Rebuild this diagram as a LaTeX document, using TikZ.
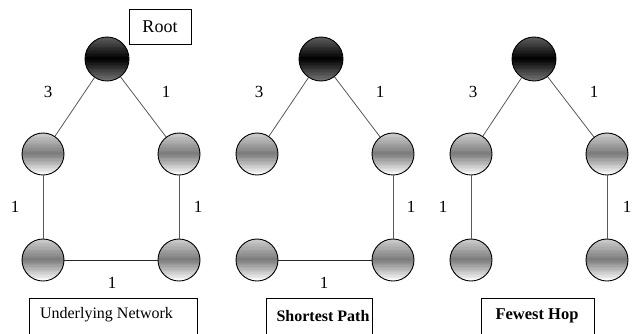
\documentclass[tikz,border=0pt]{standalone}
\usepackage{fontspec}
\setmainfont{Liberation Serif}
\colorlet{vtop}{black!18}
\colorlet{vmid}{black!52}
\colorlet{vbot}{white}
\colorlet{rtop}{black!62}
\colorlet{rmid}{black}
\colorlet{rbot}{black!55}
\newcommand\gball[6]{% x y r top mid bottom
  \begin{scope}
    \clip (#1,#2) circle (#3);
    \foreach \gbi in {0,...,29}{
      \pgfmathsetmacro\gbt{(\gbi+0.5)/30}
      \pgfmathsetmacro\gbp{\gbt<0.5 ? (1-2*\gbt)*100 : (2-2*\gbt)*100}
      \ifdim\gbt pt<0.5pt \colorlet{gbc}{#4!\gbp!#5}\else\colorlet{gbc}{#5!\gbp!#6}\fi
      \fill[gbc] ({#1-#3},{#2+#3-\gbi*2*#3/30+0.3}) rectangle ({#1+#3},{#2+#3-(\gbi+1)*2*#3/30-0.3});
    }
  \end{scope}}
\begin{document}
\begin{tikzpicture}[x=1pt,y=1pt,
  vnode/.style={circle,draw=black,line width=0.9pt,minimum size=42pt,inner sep=0pt},
  rnode/.style={circle,draw=black,line width=0.9pt,minimum size=44pt,inner sep=0pt},
  edge/.style={draw=black!65,line width=0.8pt},
  wlab/.style={font=\fontsize{17}{19}\selectfont,inner sep=0pt},
  lbox/.style={draw=black,line width=0.8pt}]
\clip (0,0) rectangle (632,-333);
\useasboundingbox (0,0) rectangle (632,-333);
\fill[white] (0,0) rectangle (632,-333);

% ---- shaded balls
\foreach \bx in {107,321,534}{\gball{\bx}{-59}{22}{rtop}{rmid}{rbot}}
\foreach \bx in {43,179,257,393,471,607}{
  \gball{\bx}{-154}{21}{vtop}{vmid}{vbot}
  \gball{\bx}{-260}{21}{vtop}{vmid}{vbot}}

% ---- panel 1: underlying network
\node[rnode] (r1) at (107,-59) {};
\node[vnode] (a1) at (43,-154) {};
\node[vnode] (b1) at (179,-154) {};
\node[vnode] (c1) at (43,-260) {};
\node[vnode] (d1) at (179,-260) {};
\draw[edge] (r1) -- (a1);
\draw[edge] (r1) -- (b1);
\draw[edge] (a1) -- (c1);
\draw[edge] (b1) -- (d1);
\draw[edge,draw=black!85] (c1) -- (d1);
\node[wlab] (l13) at (48,-92) {3};
\node[wlab] (l11) at (166,-92) {1};
\node[wlab] (l1l) at (15,-207) {1};
\node[wlab] (l1r) at (198,-207) {1};
\node[wlab] (l1b) at (112,-283) {1};
\node[lbox,minimum width=62pt,minimum height=35pt,inner sep=0pt,
  font=\fontsize{18}{20}\selectfont] (root) at (160,-26.5) {Root};
\draw[lbox] (29,-298) rectangle (197,-345);
\node[font=\fontsize{16}{18}\selectfont,inner sep=0pt] (t1) at (106.5,-315) {Underlying Network};

% ---- panel 2: shortest path
\node[rnode] (r2) at (321,-59) {};
\node[vnode] (a2) at (257,-154) {};
\node[vnode] (b2) at (393,-154) {};
\node[vnode] (c2) at (257,-260) {};
\node[vnode] (d2) at (393,-260) {};
\draw[edge] (r2) -- (a2);
\draw[edge] (r2) -- (b2);
\draw[edge] (b2) -- (d2);
\draw[edge,draw=black!85] (c2) -- (d2);
\node[wlab] (l23) at (259,-92) {3};
\node[wlab] (l21) at (380,-92) {1};
\node[wlab] (l2r) at (411,-207) {1};
\node[wlab] (l2b) at (324,-283) {1};
\draw[lbox] (266,-298) rectangle (372,-345);
\node[font=\bfseries\fontsize{16}{18}\selectfont,inner sep=0pt] (t2) at (323,-316) {Shortest Path};

% ---- panel 3: fewest hop
\node[rnode] (r3) at (534,-59) {};
\node[vnode] (a3) at (471,-154) {};
\node[vnode] (b3) at (607,-154) {};
\node[vnode] (c3) at (471,-260) {};
\node[vnode] (d3) at (607,-260) {};
\draw[edge] (r3) -- (a3);
\draw[edge] (r3) -- (b3);
\draw[edge] (a3) -- (c3);
\draw[edge] (b3) -- (d3);
\node[wlab] (l33) at (473,-92) {3};
\node[wlab] (l31) at (594,-92) {1};
\node[wlab] (l3l) at (443,-207) {1};
\node[wlab] (l3r) at (627,-207) {1};
\draw[lbox] (481,-298) rectangle (594,-345);
\node[font=\bfseries\fontsize{16.5}{18}\selectfont,inner sep=0pt] (t3) at (537,-316) {Fewest Hop};
\end{tikzpicture}
\end{document}
